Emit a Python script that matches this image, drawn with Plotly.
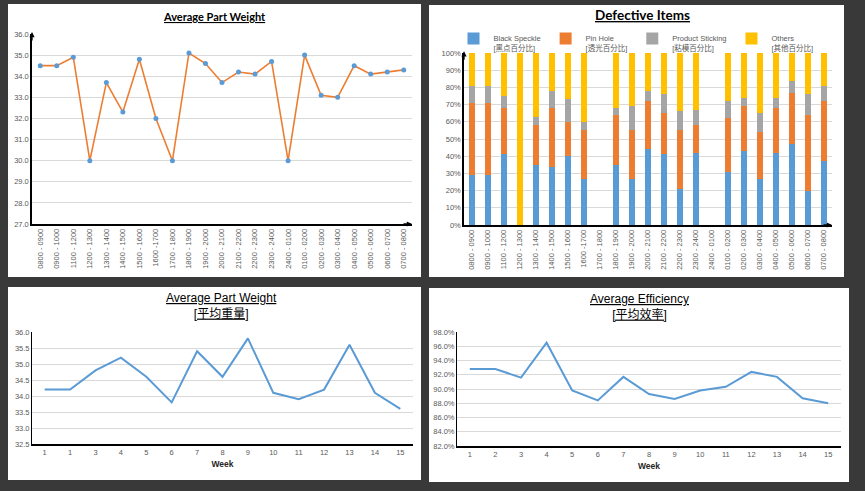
import plotly.graph_objects as go

W, H = 865, 491

# ---------------- data ----------------
hours = ["0800 - 0900", "0900 - 1000", "1100 - 1200", "1200 - 1300", "1300 - 1400",
         "1400 - 1500", "1500 - 1600", "1600 -1700", "1700 - 1800", "1800 - 1900",
         "1900 - 2000", "2000 - 2100", "2100 - 2200", "2200 - 2300", "2300 - 2400",
         "2400 - 0100", "0100 - 0200", "0200 - 0300", "0300 - 0400", "0400 - 0500",
         "0500 - 0600", "0600 - 0700", "0700 - 0800"]
hourly_weight = [34.5, 34.5, 34.9, 30.0, 33.7, 32.3, 34.8, 32.0, 30.0, 35.1, 34.6, 33.7,
                 34.2, 34.1, 34.7, 30.0, 35.0, 33.1, 33.0, 34.5, 34.1, 34.2, 34.3]

black_speckle = [29, 29, 41, 0, 35, 34, 40, 27, 0, 35, 27, 44, 41, 21, 42, 0, 31, 43, 27, 42, 47, 20, 37]
pin_hole = [42, 42, 27, 0, 23, 34, 20, 28, 0, 29, 28, 28, 24, 34, 16, 0, 31, 26, 27, 26, 30, 44, 35]
product_sticking = [10, 10, 7, 0, 5, 10, 13, 5, 0, 4, 14, 6, 11, 11, 9, 0, 10, 5, 11, 6, 7, 12, 9]
others = [19, 19, 25, 100, 37, 22, 27, 40, 0, 32, 31, 22, 24, 34, 33, 0, 28, 26, 35, 26, 16, 24, 19]
defect_names = ["Black Speckle<br>[黑点百分比]", "Pin Hole<br>[透光百分比]",
                "Product Sticking<br>[粘模百分比]", "Others<br>[其他百分比]"]

week_index = [1, 2, 3, 4, 5, 6, 7, 8, 9, 10, 11, 12, 13, 14, 15]
weight_week_labels = ["1", "1", "3", "4", "5", "6", "7", "8", "9", "10", "11", "12", "13", "14", "15"]
weekly_weight = [34.2, 34.2, 34.8, 35.2, 34.6, 33.8, 35.4, 34.6, 35.8, 34.1, 33.9, 34.2, 35.6, 34.1, 33.6]
eff_week_labels = ["1", "2", "3", "4", "5", "6", "7", "8", "9", "10", "11", "12", "13", "14", "15"]
weekly_efficiency = [92.8, 92.8, 91.6, 96.5, 89.8, 88.4, 91.7, 89.3, 88.6, 89.8, 90.3, 92.4, 91.7, 88.7, 88.0]

# ---------------- styles ----------------
BLUE, ORANGE, GRAY, YELLOW = "#5B9BD5", "#ED7D31", "#A5A5A5", "#FFC000"
BG = "#393939"
GRID = "#d9d9d9"
TICK = dict(family="Liberation Sans, Arial, sans-serif", size=7.5, color="#595959")
TITLE_FONT_TOP = "Lato, Carlito, sans-serif"
TITLE_FONT_BOT = "Liberation Sans, Noto Sans CJK SC, sans-serif"


def px_x(v):
    return v / W


def px_y(v):
    return 1 - v / H


fig = go.Figure()

# top-left: hourly weight
fig.add_trace(go.Scatter(x=hours, y=hourly_weight, mode="lines+markers",
                         line=dict(color=ORANGE, width=1.6),
                         marker=dict(color=BLUE, size=5),
                         showlegend=False, xaxis="x", yaxis="y"))

# top-right: defect stacks
for name, vals, col in zip(defect_names, [black_speckle, pin_hole, product_sticking, others],
                           [BLUE, ORANGE, GRAY, YELLOW]):
    fig.add_trace(go.Bar(x=hours, y=vals, name=name, marker=dict(color=col, line=dict(width=0)),
                         xaxis="x2", yaxis="y2"))

# bottom-left: weekly weight
fig.add_trace(go.Scatter(x=week_index, y=weekly_weight, mode="lines",
                         line=dict(color=BLUE, width=2), showlegend=False,
                         xaxis="x3", yaxis="y3"))

# bottom-right: weekly efficiency
fig.add_trace(go.Scatter(x=week_index, y=weekly_efficiency, mode="lines",
                         line=dict(color=BLUE, width=2), showlegend=False,
                         xaxis="x4", yaxis="y4"))

# panels
panels = [(8, 4, 421, 277), (429, 5, 844, 277), (8, 287, 421, 480), (429, 288, 849, 482)]
shapes = []
for x0, y0, x1, y1 in panels:
    shapes.append(dict(type="rect", xref="paper", yref="paper",
                       x0=px_x(x0), x1=px_x(x1), y0=px_y(y1), y1=px_y(y0),
                       fillcolor="white", line=dict(width=0), layer="below"))

cat_x = dict(type="category", showgrid=False, showline=True, linecolor="black", linewidth=1.5,
             ticks="", tickangle=-90, tickfont=dict(TICK, size=7.5), automargin=False,
             range=[-0.5, len(hours) - 0.5], fixedrange=True)
base_y = dict(showgrid=True, gridcolor=GRID, gridwidth=1, showline=True, linecolor="black",
              linewidth=1.5, ticks="", tickfont=TICK, zeroline=False, automargin=False)
week_x = dict(type="linear", showgrid=False, showline=True, linecolor="black", linewidth=1.5,
              ticks="", tickfont=TICK, tickmode="array", tickvals=week_index,
              range=[0.5, 15.5], zeroline=False, automargin=False,
              title=dict(text="<b>Week</b>", font=dict(family="Liberation Sans, Arial", size=8.5, color="#262626"),
                         standoff=5))

fig.update_layout(
    width=W, height=H, autosize=False,
    margin=dict(l=0, r=0, t=0, b=0),
    paper_bgcolor=BG, plot_bgcolor="white",
    barmode="stack", bargap=0.6,
    shapes=shapes,
    xaxis=dict(cat_x, domain=[px_x(32), px_x(412)], anchor="y"),
    yaxis=dict(base_y, domain=[px_y(224), px_y(34)], anchor="x", range=[27, 36], dtick=1, tickformat=".1f"),
    xaxis2=dict(cat_x, domain=[px_x(464), px_x(832)], anchor="y2"),
    yaxis2=dict(base_y, domain=[px_y(225), px_y(53)], anchor="x2", range=[0, 100], dtick=10,
                ticksuffix="%"),
    xaxis3=dict(week_x, domain=[px_x(32), px_x(413)], anchor="y3", ticktext=weight_week_labels),
    yaxis3=dict(base_y, domain=[px_y(444), px_y(332)], anchor="x3", range=[32.5, 36], dtick=0.5,
                tickformat=".1f", linewidth=1),
    xaxis4=dict(week_x, domain=[px_x(457), px_x(841)], anchor="y4", ticktext=eff_week_labels),
    yaxis4=dict(base_y, domain=[px_y(446), px_y(332)], anchor="x4", range=[82, 98], dtick=2,
                tickformat=".1f", ticksuffix="%", linewidth=1),
    legend=dict(orientation="h", x=px_x(636), xanchor="center", y=px_y(27), yanchor="top",
                font=dict(family="Liberation Sans, Noto Sans CJK SC, sans-serif", size=7.5, color="#595959"),
                valign="top", itemwidth=30, bgcolor="rgba(0,0,0,0)", traceorder="normal"),
)

annotations = [
    dict(text="<b><u>Average Part Weight</u></b>", x=px_x(214), y=px_y(17), xref="paper", yref="paper",
         xanchor="center", yanchor="middle",
         showarrow=False, font=dict(family=TITLE_FONT_TOP, size=11, color="black")),
    dict(text="<b><u>Defective Items</u></b>", x=px_x(642), y=px_y(15), xref="paper", yref="paper",
         xanchor="center", yanchor="middle",
         showarrow=False, font=dict(family=TITLE_FONT_TOP, size=13.5, color="black")),
    dict(text="<u>Average Part Weight</u><br><u>[平均重量]</u>", x=px_x(222), y=px_y(306), xref="paper",
         yref="paper", xanchor="center", yanchor="middle",
         showarrow=False, font=dict(family=TITLE_FONT_BOT, size=12, color="black")),
    dict(text="<u>Average Efficiency</u><br><u>[平均效率]</u>", x=px_x(639), y=px_y(307), xref="paper",
         yref="paper", xanchor="center", yanchor="middle",
         showarrow=False, font=dict(family=TITLE_FONT_BOT, size=12, color="black")),
]
# axis arrows on the top charts
for xr, yr in [("x", "y"), ("x2", "y2")]:
    annotations.append(dict(x=0, y=1.01, xref=f"{xr} domain", yref=f"{yr} domain", ax=0, ay=10,
                            showarrow=True, arrowhead=2, arrowsize=0.8, arrowwidth=1.3,
                            arrowcolor="black", text=""))
    annotations.append(dict(x=1.0, y=0, xref=f"{xr} domain", yref=f"{yr} domain", ax=-10, ay=0,
                            showarrow=True, arrowhead=2, arrowsize=0.8, arrowwidth=1.3,
                            arrowcolor="black", text=""))
fig.update_layout(annotations=annotations)

fig.write_html("out.html", config={"displayModeBar": False},
               post_script="document.body.style.margin='0';document.body.style.background='%s';" % BG)
